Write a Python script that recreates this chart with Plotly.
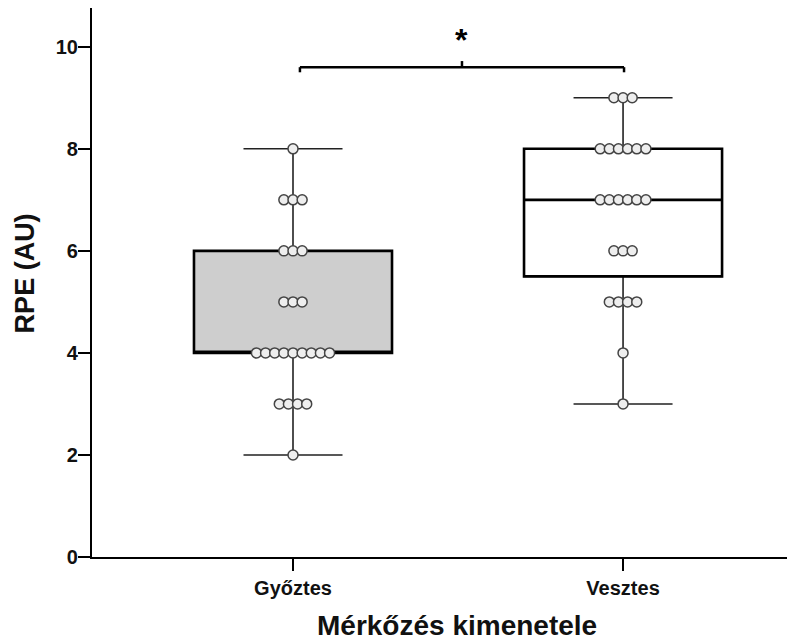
import numpy as np
import plotly.graph_objects as go

# ---- data ----
categories = ["Győztes", "Vesztes"]
winner_values = [8, 7, 7, 7, 6, 6, 6, 5, 5, 5, 4, 4, 4, 4, 4, 4, 4, 4, 4, 3, 3, 3, 3, 2]
loser_values = [9, 9, 9, 8, 8, 8, 8, 8, 8, 7, 7, 7, 7, 7, 7, 6, 6, 6, 5, 5, 5, 5, 4, 3]
series = [winner_values, loser_values]
box_fills = ["#cecece", "#ffffff"]
y_ticks = [0, 2, 4, 6, 8, 10]
sig_label = "*"
x_title = "Mérkőzés kimenetele"
y_title = "RPE (AU)"

FONT = "Liberation Sans, Arial, sans-serif"
DOT_STEP = 0.0277  # horizontal spacing between stacked dots (x data units)

fig = go.Figure()

for i, vals in enumerate(series):
    arr = np.array(vals, dtype=float)
    # thin whiskers (full box trace, drawn underneath)
    fig.add_trace(go.Box(
        x=[i] * len(vals), y=vals, boxpoints=False, width=0.6, whiskerwidth=0.5,
        fillcolor=box_fills[i], line=dict(color="#222222", width=1.6),
        quartilemethod="linear", showlegend=False, hoverinfo="skip"))
    # thick box outline on top
    q1 = float(np.percentile(arr, 25, method="hazen"))
    med = float(np.percentile(arr, 50, method="hazen"))
    q3 = float(np.percentile(arr, 75, method="hazen"))
    fig.add_trace(go.Box(
        x=[i], q1=[q1], median=[med], q3=[q3], lowerfence=[q1], upperfence=[q3],
        width=0.6, whiskerwidth=0, fillcolor=box_fills[i],
        line=dict(color="#000000", width=2.6), showlegend=False, hoverinfo="skip"))

# dot strips
for i, vals in enumerate(series):
    xs, ys = [], []
    for v in sorted(set(vals), reverse=True):
        k = vals.count(v)
        for j in range(k):
            xs.append(i + (j - (k - 1) / 2) * DOT_STEP)
            ys.append(v)
    fig.add_trace(go.Scatter(
        x=xs, y=ys, mode="markers", showlegend=False, hoverinfo="skip",
        marker=dict(size=10, color="#eeeeee", line=dict(color="#444444", width=1.5))))

# significance bracket
sig_y = 9.6
x0, x1 = 0.021, 1.003
xm = (x0 + x1) / 2
br = dict(type="line", xref="x", yref="y", line=dict(color="#000000", width=2.5))
fig.add_shape(**br, x0=x0, x1=x1, y0=sig_y, y1=sig_y)
fig.add_shape(**br, x0=x0, x1=x0, y0=sig_y, y1=sig_y - 0.1)
fig.add_shape(**br, x0=x1, x1=x1, y0=sig_y, y1=sig_y - 0.1)
fig.add_shape(**br, x0=xm, x1=xm, y0=sig_y, y1=sig_y + 0.12)
fig.add_annotation(x=xm, y=sig_y + 0.14, xref="x", yref="y", text=sig_label,
                   showarrow=False, yanchor="bottom",
                   font=dict(family=FONT, size=32, color="#000000", weight="bold"))

# axis titles
fig.add_annotation(xref="paper", yref="paper", x=0.519, y=-0.124, text=x_title,
                   showarrow=False, xanchor="center", yanchor="middle",
                   font=dict(family=FONT, size=28, color="#111111", weight="bold"))
fig.add_annotation(xref="paper", yref="paper", x=-0.095, y=0.517, text=y_title,
                   showarrow=False, xanchor="center", yanchor="middle", textangle=-90,
                   font=dict(family=FONT, size=27, color="#111111", weight="bold"))

# the page body adds an 8px offset, so the figure is 8px smaller than the window
fig.update_layout(
    width=787, height=636,
    margin=dict(l=84, r=0, t=0, b=87, autoexpand=False),
    plot_bgcolor="#ffffff", paper_bgcolor="#ffffff",
    font=dict(family=FONT, color="#000000"),
    xaxis=dict(
        range=[-0.609, 1.521], tickmode="array", tickvals=[0, 1], ticktext=categories,
        showline=True, linecolor="#000000", linewidth=2.2, showgrid=False, zeroline=False,
        ticks="outside", ticklen=12, tickwidth=1.5, tickcolor="#000000", automargin=False,
        tickfont=dict(family=FONT, size=20, color="#111111", weight="bold")),
    yaxis=dict(
        range=[0, 10.76], tickmode="array", tickvals=y_ticks,
        showline=True, linecolor="#000000", linewidth=2.2, showgrid=False, zeroline=False,
        ticks="outside", ticklen=12, tickwidth=1.5, tickcolor="#000000", automargin=False,
        ticklabelstandoff=-4,
        tickfont=dict(family=FONT, size=20, color="#111111", weight="bold")),
)

fig.write_html("out.html")
